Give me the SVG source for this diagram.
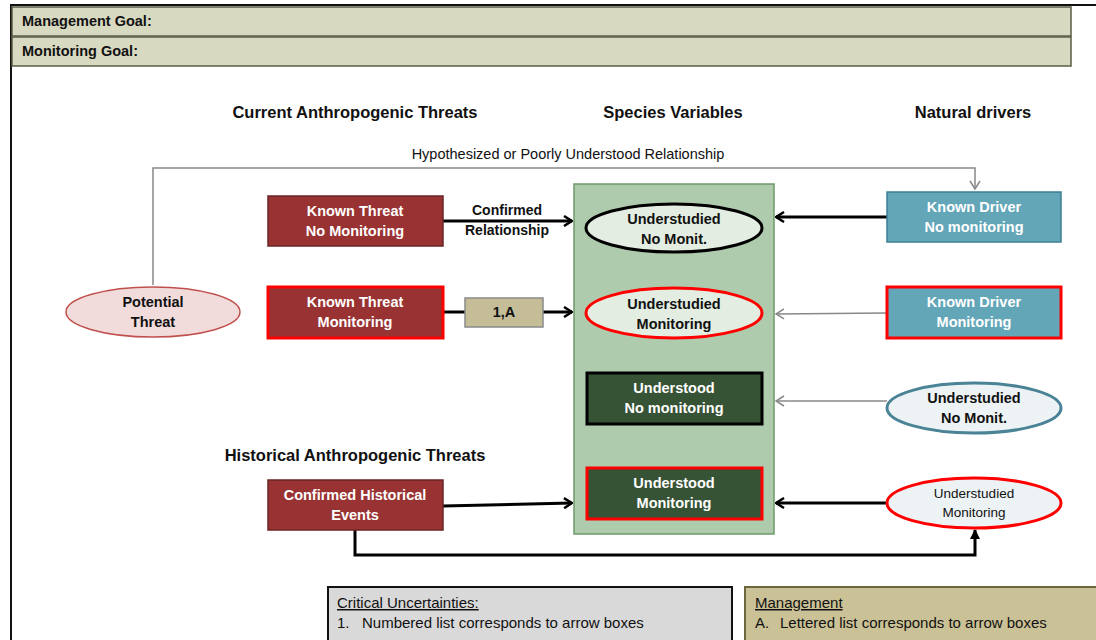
<svg xmlns="http://www.w3.org/2000/svg" width="1096" height="640" viewBox="0 0 1096 640">
<defs>
<marker id="ab" viewBox="0 0 10 12" refX="9" refY="6" markerWidth="10" markerHeight="12" markerUnits="userSpaceOnUse" orient="auto">
<path d="M1,1 L9,6 L1,11" fill="none" stroke="#000" stroke-width="2.5"/>
</marker>
<marker id="ag" viewBox="0 0 10 12" refX="9" refY="6" markerWidth="10" markerHeight="12" markerUnits="userSpaceOnUse" orient="auto">
<path d="M1,1 L9,6 L1,11" fill="none" stroke="#888" stroke-width="1.5"/>
</marker>
<marker id="atri" viewBox="0 0 10 10" refX="9" refY="5" markerWidth="10" markerHeight="10" markerUnits="userSpaceOnUse" orient="auto">
<path d="M0,0 L10,5 L0,10 Z" fill="#000"/>
</marker>
</defs>
<style>
text{font-family:"Liberation Sans",Arial,sans-serif;}
.hdr{font-size:16.5px;font-weight:bold;fill:#111;text-anchor:middle;}
.goal{font-size:14.5px;font-weight:bold;fill:#111;}
.w{font-size:14.5px;font-weight:bold;fill:#fff;text-anchor:middle;}
.d{font-size:14.5px;font-weight:bold;fill:#111;text-anchor:middle;}
.lbl{font-size:14px;font-weight:bold;fill:#111;text-anchor:middle;}
.hyp{font-size:14.5px;fill:#111;text-anchor:middle;}
.thr{fill:#993333;stroke:#6b2424;stroke-width:1.5;}
.drv{fill:#63a6b8;stroke:#3e7f92;stroke-width:1.5;}
.und{fill:#375336;stroke:#000;stroke-width:3;}
.red{stroke:#ff0000;stroke-width:3;}
.blk{stroke:#000;stroke-width:3;fill:none;}
.gry{stroke:#888;stroke-width:1.5;fill:none;}
.leg{font-size:15px;fill:#111;}
</style>
<rect width="1096" height="640" fill="#fff"/>
<path d="M11,640 V5 H1096" fill="none" stroke="#111" stroke-width="2"/>
<g id="goals">
<rect x="12" y="7" width="1059" height="29" fill="#d8d9c1" stroke="#5b5c45" stroke-width="1.5"/>
<rect x="12" y="37" width="1059" height="29" fill="#d8d9c1" stroke="#5b5c45" stroke-width="1.5"/>
<text class="goal" x="22" y="26">Management Goal:</text>
<text class="goal" x="22" y="56">Monitoring Goal:</text>
</g>
<g id="headers">
<text class="hdr" x="355" y="118">Current Anthropogenic Threats</text>
<text class="hdr" x="673" y="118">Species Variables</text>
<text class="hdr" x="973" y="118">Natural drivers</text>
<text class="hdr" x="355" y="461">Historical Anthropogenic Threats</text>
</g>
<g id="species-box">
<rect x="574" y="184" width="200" height="350" fill="#afcbad" stroke="#6c9a68" stroke-width="1.5"/>
</g>
<g id="connectors">
<path class="gry" d="M153,285 V168 H975 V189" marker-end="url(#ag)"/>
<text class="hyp" x="568" y="159">Hypothesized or Poorly Understood Relationship</text>
<path class="blk" d="M443,221 H572" marker-end="url(#ab)"/>
<text class="lbl" x="507" y="215">Confirmed</text>
<text class="lbl" x="507" y="235">Relationship</text>
<path class="blk" d="M443,312 H465"/>
<path class="blk" d="M543,312 H572" marker-end="url(#ab)"/>
<path class="blk" d="M887,217 H776" marker-end="url(#ab)"/>
<path class="gry" d="M887,313 L776,314" marker-end="url(#ag)"/>
<path class="gry" d="M887,401 H776" marker-end="url(#ag)"/>
<path class="blk" d="M887,503 H776" marker-end="url(#ab)"/>
<path class="blk" d="M443,506 L572,503" marker-end="url(#ab)"/>
<path d="M355,530 V555 H975 V530" fill="none" stroke="#000" stroke-width="3" marker-end="url(#atri)"/>
</g>
<g id="potential-threat">
<ellipse cx="153" cy="312" rx="87" ry="25" fill="#f2dcdb" stroke="#c0504d" stroke-width="1.5"/>
<text class="d" x="153" y="307">Potential</text>
<text class="d" x="153" y="327">Threat</text>
</g>
<g id="known-threat-no-monitoring">
<rect class="thr" x="268" y="196" width="175" height="50"/>
<text class="w" x="355" y="216">Known Threat</text>
<text class="w" x="355" y="236">No Monitoring</text>
</g>
<g id="known-threat-monitoring">
<rect class="thr red" x="268" y="287" width="175" height="51"/>
<text class="w" x="355" y="307">Known Threat</text>
<text class="w" x="355" y="327">Monitoring</text>
</g>
<g id="box-1A">
<rect x="465" y="298" width="78" height="29" fill="#c4bd97" stroke="#8a8a8a" stroke-width="1.5"/>
<text class="d" x="504" y="317">1,A</text>
</g>
<g id="confirmed-historical">
<rect class="thr" x="268" y="480" width="175" height="50"/>
<text class="w" x="355" y="500">Confirmed Historical</text>
<text class="w" x="355" y="520">Events</text>
</g>
<g id="sp-understudied-no-monit">
<ellipse cx="674" cy="228" rx="88" ry="24" fill="#e3ede1" stroke="#000" stroke-width="3"/>
<text class="d" x="674" y="224">Understudied</text>
<text class="d" x="674" y="244">No Monit.</text>
</g>
<g id="sp-understudied-monitoring">
<ellipse cx="674" cy="313" rx="88" ry="25" fill="#e3ede1" stroke="#ff0000" stroke-width="3"/>
<text class="d" x="674" y="309">Understudied</text>
<text class="d" x="674" y="329">Monitoring</text>
</g>
<g id="sp-understood-no-monitoring">
<rect class="und" x="587" y="373" width="175" height="51"/>
<text class="w" x="674" y="393">Understood</text>
<text class="w" x="674" y="413">No monitoring</text>
</g>
<g id="sp-understood-monitoring">
<rect class="und red" x="587" y="468" width="175" height="51"/>
<text class="w" x="674" y="488">Understood</text>
<text class="w" x="674" y="508">Monitoring</text>
</g>
<g id="known-driver-no-monitoring">
<rect class="drv" x="887" y="192" width="174" height="50"/>
<text class="w" x="974" y="212">Known Driver</text>
<text class="w" x="974" y="232">No monitoring</text>
</g>
<g id="known-driver-monitoring">
<rect class="drv red" x="887" y="287" width="174" height="51"/>
<text class="w" x="974" y="307">Known Driver</text>
<text class="w" x="974" y="327">Monitoring</text>
</g>
<g id="nd-understudied-no-monit">
<ellipse cx="974" cy="408" rx="87" ry="25" fill="#edf3f5" stroke="#4a8396" stroke-width="3"/>
<text class="d" x="974" y="403">Understudied</text>
<text class="d" x="974" y="423">No Monit.</text>
</g>
<g id="nd-understudied-monitoring">
<ellipse cx="974" cy="503" rx="87" ry="25" fill="#edf3f5" stroke="#ff0000" stroke-width="3"/>
<text class="hyp" x="974" y="498" style="font-size:13.5px">Understudied</text>
<text class="hyp" x="974" y="517" style="font-size:13.5px">Monitoring</text>
</g>
<g id="legend-uncertainties">
<rect x="328" y="587" width="404" height="56" fill="#d9d9d9" stroke="#111" stroke-width="2"/>
<text class="leg" x="337" y="608" text-decoration="underline">Critical Uncertainties:</text>
<text class="leg" x="337" y="628">1.</text>
<text class="leg" x="362" y="628">Numbered list corresponds to arrow boxes</text>
</g>
<g id="legend-management">
<rect x="745" y="587" width="356" height="56" fill="#cbc196" stroke="#6b6540" stroke-width="2"/>
<text class="leg" x="755" y="608" text-decoration="underline">Management</text>
<text class="leg" x="755" y="628">A.</text>
<text class="leg" x="780" y="628">Lettered list corresponds to arrow boxes</text>
</g>
</svg>
